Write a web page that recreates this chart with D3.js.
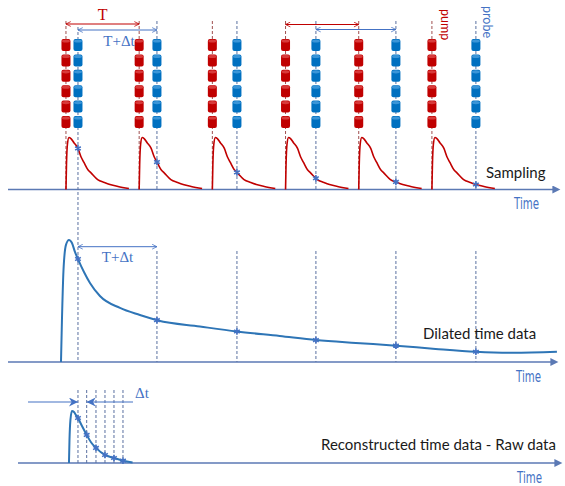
<!DOCTYPE html>
<html>
<head>
<meta charset="utf-8">
<script src="https://cdn.jsdelivr.net/npm/d3@7"></script>
<style>
body { margin: 0; background: #fff; }
</style>
</head>
<body>
<div id="chart"></div>
<script>
// time unit = T/100, pump n fires at n*100
var pumpTimes = [0, 100, 200, 300, 400, 500];
var probeTimes = [16.4, 124.3, 233.6, 341.5, 450.8, 560.1];
var trainPulses = [0, 1, 2, 3, 4, 5];

// response to one pump pulse (offset from pump, relative amplitude)
var pulseT = [0, 0.7, 2, 4.1, 6.8, 10.9, 16.4, 20.5, 24.6, 30, 34.2, 43.3, 52.5, 60.1, 71, 86];
var pulseA = [0, .48, .87, 1, .98, .9, .79, .63, .52, .38, .32, .19, .135, .096, .058, .02];

// dilated time trace
var dilT = [-6.8, -5.5, -3.4, 0, 4.1, 8.2, 12.3, 16.4, 24.6, 32.8, 46.4, 73.8, 101, 125.7, 183, 233.6, 292, 341.5, 396, 451, 505, 560, 610.7, 670.8];
var dilA = [0, .34, .75, .96, 1, .975, .902, .844, .738, .648, .541, .443, .385, .34, .291, .25, .213, .18, .156, .134, .107, .084, .076, .084];

// reconstructed trace
var recT = [4.1, 4.8, 6.1, 8.2, 10.9, 13.7, 16.4, 21.9, 28.3, 34.2, 41, 53.3, 65.6, 77.9, 91];
var recA = [0, .44, .83, 1, .98, .92, .865, .71, .54, .40, .29, .154, .096, .044, .01];
var recSamples = [16.4, 28.3, 41, 53.3, 65.6, 77.9];

var red = "#C00000", blue = "#0070C0", lblue = "#4472C4", axisC = "#5B79B4";

var svg = d3.select("#chart").append("svg")
  .attr("width", 565)
  .attr("height", 486);

var defs = svg.append("defs");
function vhead(id, col) {
  defs.append("marker").attr("id", id)
    .attr("viewBox", "0 0 10 10").attr("refX", 9).attr("refY", 5)
    .attr("markerWidth", 6).attr("markerHeight", 6)
    .attr("markerUnits", "userSpaceOnUse")
    .attr("orient", "auto-start-reverse")
    .append("path").attr("d", "M1,1L9,5L1,9")
    .attr("fill", "none").attr("stroke", col).attr("stroke-width", 1.3);
}
vhead("hr", red);
vhead("hb", lblue);
defs.append("marker").attr("id", "tri")
  .attr("viewBox", "0 0 10 10").attr("refX", 10).attr("refY", 5)
  .attr("markerWidth", 9).attr("markerHeight", 9)
  .attr("markerUnits", "userSpaceOnUse")
  .attr("orient", "auto-start-reverse")
  .append("path").attr("d", "M0,0L10,5L0,10L3,5Z").attr("fill", lblue);
defs.append("marker").attr("id", "ax")
  .attr("viewBox", "0 0 10 10").attr("refX", 2).attr("refY", 5)
  .attr("markerWidth", 9).attr("markerHeight", 8)
  .attr("markerUnits", "userSpaceOnUse")
  .attr("orient", "auto")
  .append("path").attr("d", "M0,0L10,5L0,10Z").attr("fill", axisC);

var x = d3.scaleLinear().domain([-79.2, 675]).range([8, 560]);
var yTop = d3.scaleLinear().domain([0, 1]).range([189.5, 137.5]);
var yMid = d3.scaleLinear().domain([0, 1]).range([362, 240]);
var yBot = d3.scaleLinear().domain([0, 1]).range([463, 411]);
var stackY = d3.scaleLinear().domain([0, 5]).range([39, 116]);

var pulseAt = d3.scaleLinear().domain(pulseT).range(pulseA).clamp(true);
var dilAt = d3.scaleLinear().domain(dilT).range(dilA);
var recAt = d3.scaleLinear().domain(recT).range(recA);

// axes
function axis(x0, x1, y) {
  svg.append("line")
    .attr("x1", x0).attr("x2", x1).attr("y1", y).attr("y2", y)
    .attr("stroke", axisC).attr("stroke-width", 1.3)
    .attr("marker-end", "url(#ax)");
}
axis(8, 554, 189.5);
axis(8, 552, 362);
axis(18, 556, 463);

function dashed(xv, y0, y1, col) {
  svg.append("line")
    .attr("x1", x(xv)).attr("x2", x(xv)).attr("y1", y0).attr("y2", y1)
    .attr("stroke", col).attr("stroke-width", 1)
    .attr("stroke-dasharray", "3,2");
}

// dashed guides
pumpTimes.forEach(function(t) { dashed(t, 21, 189.5, "#A05050"); });
probeTimes.forEach(function(t, i) {
  if (i === 0) dashed(t, 27, 362, "#5A70A0");
  else {
    dashed(t, 21, 189.5, "#5A70A0");
    dashed(t, 251, 362, "#5A70A0");
  }
});
recSamples.forEach(function(t) { dashed(t, 390, 463, "#5A70A0"); });

// pulse trains
function train(t, fill, cap) {
  var g = svg.append("g");
  g.selectAll("rect").data(trainPulses).enter().append("rect")
    .attr("x", x(t) - 4.5).attr("y", function(d) { return stackY(d); })
    .attr("width", 9).attr("height", 12).attr("rx", 2)
    .attr("fill", fill);
  g.selectAll("ellipse").data(trainPulses).enter().append("ellipse")
    .attr("cx", x(t)).attr("cy", function(d) { return stackY(d) + 2; })
    .attr("rx", 4).attr("ry", 1.6)
    .attr("fill", cap);
}
pumpTimes.forEach(function(t) { train(t, red, "#D83A3A"); });
probeTimes.forEach(function(t) { train(t, blue, "#3A95D8"); });

// top panel pulses
var lineTop = d3.line().curve(d3.curveMonotoneX);
pumpTimes.forEach(function(p) {
  svg.append("path")
    .attr("d", lineTop(pulseT.map(function(t, i) { return [x(p + t), yTop(pulseA[i])]; })))
    .attr("fill", "none").attr("stroke", red).attr("stroke-width", 1.6);
});

// middle trace
svg.append("path")
  .attr("d", lineTop(dilT.map(function(t, i) { return [x(t), yMid(dilA[i])]; })))
  .attr("fill", "none").attr("stroke", "#2E75B6").attr("stroke-width", 2);

// bottom trace
svg.append("path")
  .attr("d", lineTop(recT.map(function(t, i) { return [x(t), yBot(recA[i])]; })))
  .attr("fill", "none").attr("stroke", "#2E75B6").attr("stroke-width", 2);

// sample markers
var star = d3.symbol().type(d3.symbolAsterisk || d3.symbolCross).size(30);
function mark(px, py) {
  svg.append("path").attr("d", star())
    .attr("transform", "translate(" + px + "," + py + ")")
    .attr("fill", "none").attr("stroke", lblue).attr("stroke-width", 1.6);
}
probeTimes.forEach(function(t, i) {
  mark(x(t), yTop(pulseAt(t - pumpTimes[i])));
  mark(x(t), yMid(dilAt(t)));
});
recSamples.forEach(function(t) { mark(x(t), yBot(recAt(t))); });

// interval arrows
function span(t0, t1, y, id, col) {
  svg.append("line")
    .attr("x1", x(t0)).attr("x2", x(t1)).attr("y1", y).attr("y2", y)
    .attr("stroke", col).attr("stroke-width", 1)
    .attr("marker-start", "url(#" + id + ")")
    .attr("marker-end", "url(#" + id + ")");
}
span(pumpTimes[0], pumpTimes[1], 24, "hr", red);
span(probeTimes[0], probeTimes[1], 30, "hb", lblue);
span(pumpTimes[3], pumpTimes[4], 24.5, "hr", red);
span(probeTimes[3], probeTimes[4], 29.5, "hb", lblue);
span(probeTimes[0], probeTimes[1], 246.7, "hb", lblue);

// Δt arrows
svg.append("line")
  .attr("x1", 28).attr("x2", x(recSamples[0])).attr("y1", 402).attr("y2", 402)
  .attr("stroke", lblue).attr("stroke-width", 1.2)
  .attr("marker-end", "url(#tri)");
svg.append("line")
  .attr("x1", 133).attr("x2", x(recSamples[1])).attr("y1", 402).attr("y2", 402)
  .attr("stroke", lblue).attr("stroke-width", 1.2)
  .attr("marker-end", "url(#tri)");

// labels
svg.append("text").attr("x", (x(pumpTimes[0]) + x(pumpTimes[1])) / 2).attr("y", 20)
  .attr("text-anchor", "middle").attr("font-family", "Liberation Serif")
  .style("font-size", "16px").attr("fill", red).text("T");
svg.append("text").attr("x", 119).attr("y", 46)
  .attr("text-anchor", "middle").attr("font-family", "Liberation Serif")
  .style("font-size", "15px").attr("fill", lblue).text("T+\u0394t");
svg.append("text").attr("x", 117.5).attr("y", 262)
  .attr("text-anchor", "middle").attr("font-family", "Liberation Serif")
  .style("font-size", "15px").attr("fill", lblue).text("T+\u0394t");
svg.append("text").attr("x", 135).attr("y", 398)
  .attr("font-family", "Liberation Serif")
  .style("font-size", "15px").attr("fill", lblue).text("\u0394t");

svg.append("text").attr("transform", "translate(" + (x(pumpTimes[5]) + 9) + ",9) rotate(90)")
  .attr("font-family", "Lato").style("font-size", "12.5px").attr("fill", red).text("pump");
svg.append("text").attr("transform", "translate(" + (x(probeTimes[5]) + 7) + ",6) rotate(90)")
  .attr("font-family", "Lato").style("font-size", "12.5px").attr("fill", lblue).text("probe");

var names = [["Sampling", 486, 178], ["Dilated time data", 423, 338.5], ["Reconstructed time data - Raw data", 321, 450]];
names.forEach(function(n) {
  svg.append("text").attr("x", n[1]).attr("y", n[2])
    .attr("font-family", "Lato").style("font-size", "15px")
    .attr("fill", "#1a1a1a").text(n[0]);
});
[209, 382, 483].forEach(function(y, i) {
  svg.append("text").attr("x", [514, 516, 517][i]).attr("y", y)
    .attr("font-family", "Liberation Sans Narrow, DejaVu Sans Condensed, sans-serif")
    .style("font-size", "15px").attr("textLength", 25).attr("lengthAdjust", "spacingAndGlyphs")
    .attr("fill", lblue).text("Time");
});
</script>
</body>
</html>
